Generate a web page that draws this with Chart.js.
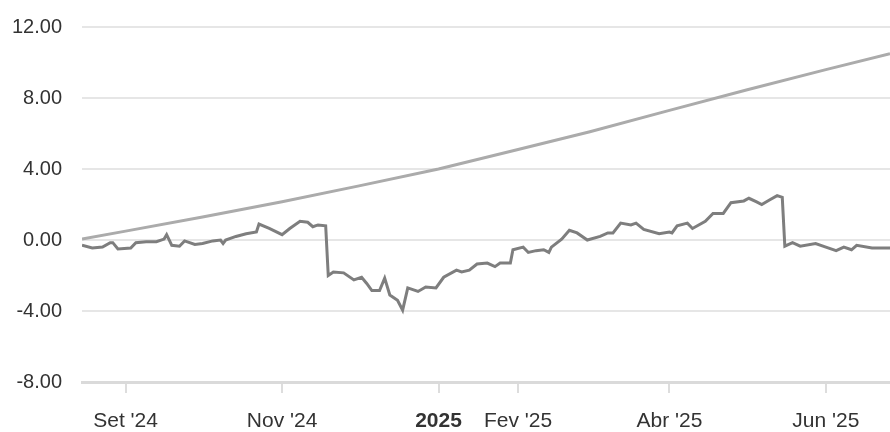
<!DOCTYPE html>
<html>
<head>
<meta charset="utf-8">
<script src="https://cdn.jsdelivr.net/npm/chart.js@4"></script>
<style>
  html,body{margin:0;padding:0;background:#fff;}
  #wrap{width:890px;height:432px;position:relative;}
</style>
</head>
<body>
<div id="wrap"><canvas id="myChart"></canvas></div>
<script>
// fund line (dark grey)
const fundDates=['2024-08-15','2024-08-19','2024-08-23','2024-08-26','2024-08-27','2024-08-29','2024-09-03','2024-09-05','2024-09-09','2024-09-13',
'2024-09-16','2024-09-17','2024-09-19','2024-09-22','2024-09-24','2024-09-28','2024-10-01','2024-10-05','2024-10-08','2024-10-09',
'2024-10-10','2024-10-14','2024-10-18','2024-10-22','2024-10-23','2024-10-27','2024-11-01','2024-11-04','2024-11-08','2024-11-11',
'2024-11-13','2024-11-15','2024-11-18','2024-11-19','2024-11-21','2024-11-25','2024-11-29','2024-12-02','2024-12-04','2024-12-06',
'2024-12-09','2024-12-11','2024-12-13','2024-12-16','2024-12-18','2024-12-20','2024-12-24','2024-12-27','2024-12-31','2025-01-03',
'2025-01-08','2025-01-10','2025-01-13','2025-01-16','2025-01-20','2025-01-23','2025-01-25','2025-01-29','2025-01-30','2025-02-03',
'2025-02-05','2025-02-08','2025-02-11','2025-02-13','2025-02-14','2025-02-18','2025-02-21','2025-02-24','2025-02-28','2025-03-05',
'2025-03-08','2025-03-10','2025-03-13','2025-03-17','2025-03-19','2025-03-22','2025-03-28','2025-04-01','2025-04-02','2025-04-04',
'2025-04-08','2025-04-10','2025-04-15','2025-04-18','2025-04-22','2025-04-25','2025-04-30','2025-05-02','2025-05-05','2025-05-07',
'2025-05-10','2025-05-13','2025-05-15','2025-05-16','2025-05-19','2025-05-22','2025-05-28','2025-06-01','2025-06-05','2025-06-08',
'2025-06-11','2025-06-13','2025-06-19','2025-06-26']
const fundValues=[-0.3,-0.45,-0.4,-0.15,-0.15,-0.5,-0.45,-0.15,-0.1,-0.1,
0.05,0.3,-0.3,-0.35,-0.05,-0.25,-0.2,-0.05,0,-0.2,
0,0.2,0.35,0.45,0.9,0.65,0.3,0.65,1.05,1.0,
0.75,0.85,0.8,-2.0,-1.8,-1.85,-2.25,-2.1,-2.45,-2.85,
-2.85,-2.15,-3.1,-3.4,-3.95,-2.7,-2.9,-2.65,-2.7,-2.1,
-1.7,-1.8,-1.7,-1.35,-1.3,-1.5,-1.3,-1.3,-0.55,-0.4,
-0.7,-0.6,-0.55,-0.7,-0.4,0.05,0.55,0.4,0,0.2,
0.4,0.4,0.95,0.85,0.95,0.6,0.35,0.45,0.4,0.8,
0.95,0.65,1.05,1.5,1.5,2.1,2.2,2.35,2.15,2.0,
2.25,2.5,2.4,-0.35,-0.15,-0.35,-0.2,-0.4,-0.6,-0.4,
-0.55,-0.3,-0.45,-0.45]

// benchmark line (light grey)
const benchDates=['2024-08-15','2024-09-01','2024-10-01','2024-11-01','2024-12-01','2025-01-01','2025-02-01','2025-03-01','2025-04-01','2025-05-01','2025-06-01','2025-06-26']
const benchValues=[0.05,0.5,1.3,2.15,3.05,4.0,5.1,6.1,7.3,8.45,9.6,10.5]

// x axis ticks
const tickDates=['2024-09-01','2024-11-01','2025-01-01','2025-02-01','2025-04-01','2025-06-01']
const tickLabels=["Set '24","Nov '24","2025","Fev '25","Abr '25","Jun '25"]

const yTicks=[-8,-4,0,4,8,12]

function toDay(s){
  return Date.parse(s+'T00:00:00Z')/86400000
}
function pts(dates,vals){
  return dates.map((d,i)=>({x:toDay(d),y:vals[i]}))
}

var ctx=document.getElementById('myChart').getContext('2d');
let myChart=new Chart(ctx,{
  type:'line',
  data:{
    datasets:[
      {
        label:'fundo',
        data:pts(fundDates,fundValues),
        borderColor:'#7e7e7e',
        borderWidth:3,
        pointRadius:0,
        fill:false,
        tension:0
      },
      {
        label:'CDI',
        data:pts(benchDates,benchValues),
        borderColor:'#ababab',
        borderWidth:3,
        pointRadius:0,
        fill:false,
        tension:0
      }
    ]
  },
  options:{
    responsive:true,
    maintainAspectRatio:false,
    animation:false,
    layout:{autoPadding:false,padding:{top:27,right:0,left:0,bottom:0}},
    plugins:{legend:{display:false},tooltip:{enabled:false}},
    scales:{
      x:{
        type:'linear',
        min:toDay(fundDates[0]),
        max:toDay(fundDates[fundDates.length-1]),
        afterBuildTicks:(axis)=>{
          axis.ticks=tickDates.map(d=>({value:toDay(d)}))
        },
        afterFit:(axis)=>{axis.height=50;axis.paddingLeft=0;axis.paddingRight=0},
        border:{display:true,color:'#dadada',width:3},
        grid:{drawOnChartArea:false,drawTicks:true,tickLength:11,color:'#dddddd',lineWidth:2},
        ticks:{
          autoSkip:false,
          maxRotation:0,
          padding:16,
          color:'#333333',
          font:(c)=>({family:'Liberation Sans, Arial, sans-serif',size:21,weight:tickLabels[c.index]==='2025'?'bold':'normal'}),
          callback:(v,i)=>tickLabels[i]
        }
      },
      y:{
        min:-8,
        max:12,
        afterBuildTicks:(axis)=>{
          axis.ticks=yTicks.map(v=>({value:v}))
        },
        afterFit:(axis)=>{axis.width=82;axis.paddingTop=0;axis.paddingBottom=0},
        border:{display:false},
        grid:{color:'#e6e6e6',lineWidth:2,drawTicks:false},
        ticks:{
          padding:20,
          color:'#333333',
          font:{family:'Liberation Sans, Arial, sans-serif',size:20},
          callback:(v)=>v.toFixed(2)
        }
      }
    }
  }
});
</script>
</body>
</html>
